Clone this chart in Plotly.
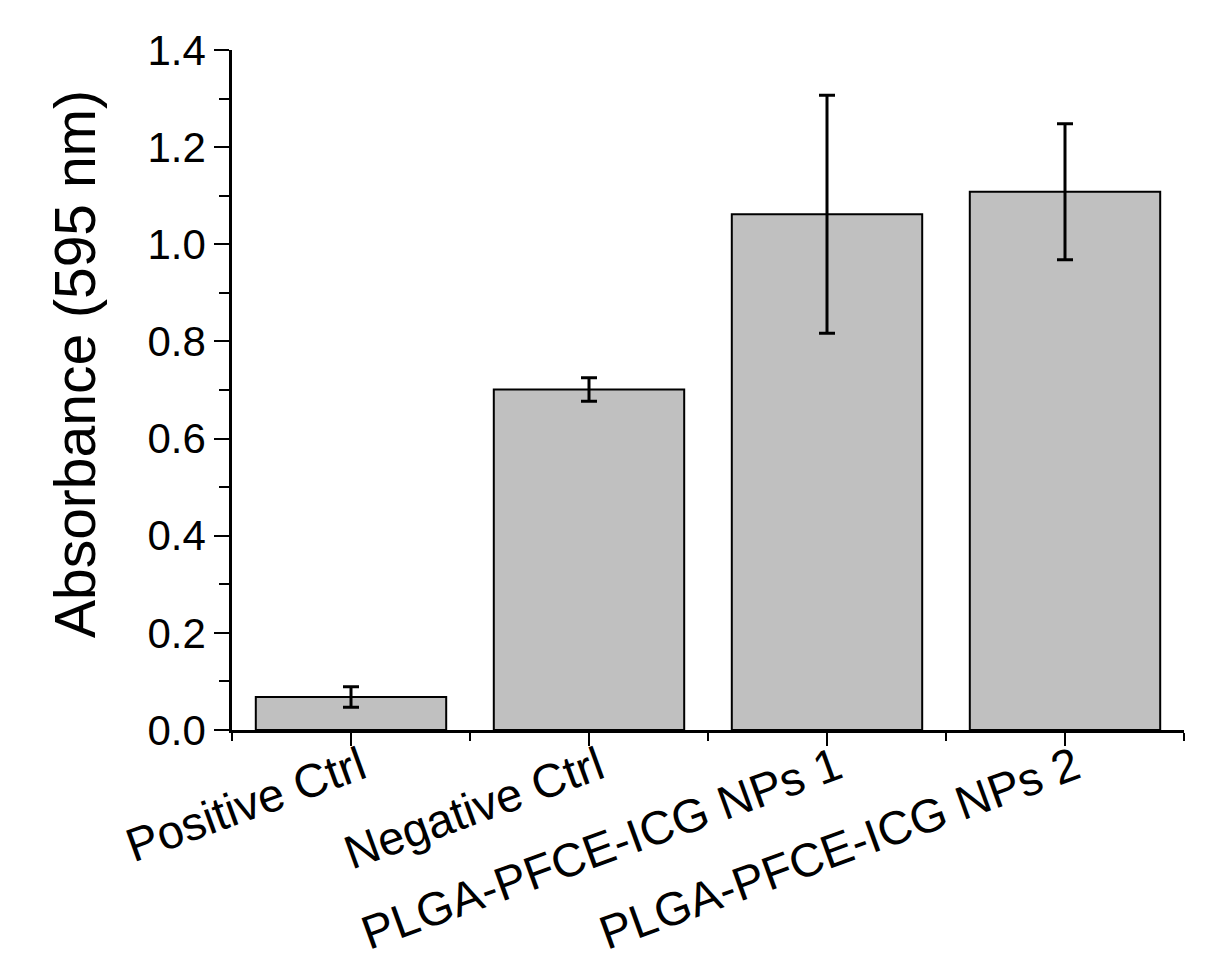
import plotly.graph_objects as go

categories = ["Positive Ctrl", "Negative Ctrl", "PLGA-PFCE-ICG NPs 1", "PLGA-PFCE-ICG NPs 2"]
absorbance = [0.068, 0.701, 1.062, 1.108]
error = [0.021, 0.024, 0.245, 0.140]
y_ticks = [0.0, 0.2, 0.4, 0.6, 0.8, 1.0, 1.2, 1.4]
y_tick_labels = ["0.0", "0.2", "0.4", "0.6", "0.8", "1.0", "1.2", "1.4"]

positions = list(range(len(categories)))

FONT = "Liberation Sans, Arial, sans-serif"

fig = go.Figure()
fig.add_trace(go.Bar(
    x=positions,
    y=absorbance,
    width=0.8,
    marker=dict(color="#c0c0c0", line=dict(color="black", width=2)),
    error_y=dict(type="data", array=error, visible=True, color="black", thickness=3, width=8),
    showlegend=False,
))

fig.update_layout(
    width=1214,
    height=978,
    paper_bgcolor="white",
    plot_bgcolor="white",
    margin=dict(l=224, r=38, t=42, b=256, autoexpand=False),
    font=dict(family=FONT, color="black"),
    xaxis=dict(
        range=[-0.5, 3.5],
        tickmode="array",
        tickvals=positions,
        ticktext=categories,
        tickangle=-20,
        ticks="outside",
        ticklen=13,
        tickwidth=2.2,
        tickcolor="black",
        showline=True,
        linecolor="black",
        linewidth=2.5,
        showgrid=False,
        zeroline=False,
        automargin=False,
        ticklabelstandoff=-24,
        ticklabelshift=10,
        tickfont=dict(size=47, family=FONT, color="black"),
        minor=dict(tickmode="linear", tick0=0.5, dtick=1, ticks="outside", ticklen=8,
                   tickwidth=2.2, tickcolor="black", showgrid=False),
    ),
    yaxis=dict(
        range=[0, 1.4],
        tickmode="array",
        tickvals=y_ticks,
        ticktext=y_tick_labels,
        ticks="outside",
        ticklen=15,
        tickwidth=2.2,
        tickcolor="black",
        showline=True,
        linecolor="black",
        linewidth=2.5,
        showgrid=False,
        zeroline=False,
        automargin=False,
        tickfont=dict(size=42, family=FONT, color="black"),
        minor=dict(tickmode="linear", tick0=0.1, dtick=0.2, ticks="outside", ticklen=10,
                   tickwidth=2.2, tickcolor="black", showgrid=False),
    ),
    annotations=[dict(
        text="Absorbance (595 nm)",
        xref="paper", yref="paper",
        x=-0.165, y=0.538,
        xanchor="center", yanchor="middle",
        textangle=-90,
        showarrow=False,
        font=dict(size=57, family=FONT, color="black"),
    )],
)

fig.write_html("out.html")
